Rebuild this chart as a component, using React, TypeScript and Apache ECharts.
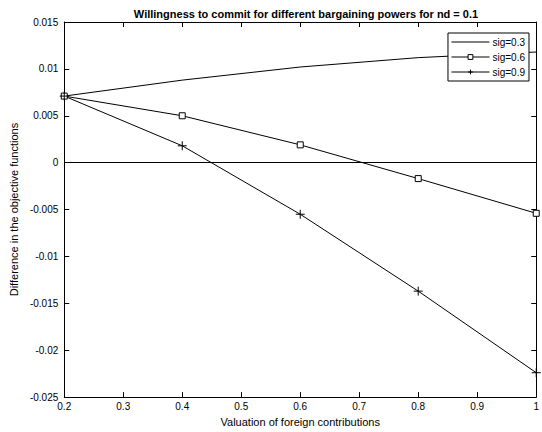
import React, { useEffect, useRef } from "react";
import * as echarts from "echarts";

const xValues = [0.2, 0.4, 0.6, 0.8, 1.0];
const sig03 = [0.0071, 0.0088, 0.0102, 0.0112, 0.0118];
const sig06 = [0.0071, 0.005, 0.0019, -0.0017, -0.0054];
const sig09 = [0.0071, 0.0018, -0.0055, -0.0137, -0.0224];
const seriesNames = ["sig=0.3", "sig=0.6", "sig=0.9"];
const titleText = "Willingness to commit for different bargaining powers for nd = 0.1";
const xName = "Valuation of foreign contributions";
const yName = "Difference in the objective functions";

const FONT = "Liberation Sans, Arial, Helvetica, sans-serif";
const plusPath = "path://M0,5L10,5M5,0L5,10";

export default function App() {
  const ref = useRef<HTMLDivElement>(null);
  useEffect(() => {
    if (!ref.current) return;
    const chart = echarts.init(ref.current, null, { renderer: "svg" });
    const pair = (ys: number[]) => xValues.map((x, i) => [x, ys[i]]);
    const fmt = (v: number) => String(parseFloat(v.toFixed(4)));
    const axisCommon = {
      axisLine: { show: true, onZero: false, lineStyle: { color: "#000", width: 1 } },
      axisTick: { show: true, inside: true, length: 5, lineStyle: { color: "#000" } },
      splitLine: { show: false },
    };
    chart.setOption({
      animation: false,
      backgroundColor: "#fff",
      textStyle: { fontFamily: FONT },
      title: {
        text: titleText,
        left: 301,
        top: 3,
        textAlign: "center",
        textStyle: { fontFamily: FONT, fontSize: 11, fontWeight: "bold", color: "#000" },
      },
      grid: { left: 63, right: 3, top: 22, bottom: 34, containLabel: false },
      legend: {
        right: 13,
        top: 33,
        orient: "vertical",
        itemWidth: 38,
        itemHeight: 6,
        itemGap: 5,
        padding: [4, 4, 4, 3],
        borderColor: "#000",
        borderWidth: 1,
        backgroundColor: "#fff",
        lineStyle: { width: 1 },
        itemStyle: { borderWidth: 1 },
        textStyle: { fontFamily: FONT, fontSize: 10, color: "#000", padding: [0, 0, 0, -2] },
        data: [
          { name: seriesNames[0], itemStyle: { opacity: 0 } },
          { name: seriesNames[1] },
          { name: seriesNames[2] },
        ],
      },
      xAxis: [
        {
          type: "value",
          min: 0.2,
          max: 1,
          interval: 0.1,
          ...axisCommon,
          axisLabel: { color: "#000", fontSize: 10, fontFamily: FONT, margin: 4, formatter: fmt },
          name: xName,
          nameLocation: "middle",
          nameGap: 17,
          nameTextStyle: { color: "#000", fontSize: 11, fontFamily: FONT },
        },
        {
          type: "value",
          position: "top",
          min: 0.2,
          max: 1,
          interval: 0.1,
          ...axisCommon,
          axisLabel: { show: false },
        },
      ],
      yAxis: [
        {
          type: "value",
          min: -0.025,
          max: 0.015,
          interval: 0.005,
          ...axisCommon,
          axisLabel: { color: "#000", fontSize: 10, fontFamily: FONT, margin: 6, formatter: fmt },
          name: yName,
          nameLocation: "middle",
          nameGap: 44,
          nameTextStyle: { color: "#000", fontSize: 11, fontFamily: FONT },
        },
        {
          type: "value",
          position: "right",
          min: -0.025,
          max: 0.015,
          interval: 0.005,
          ...axisCommon,
          axisLabel: { show: false },
        },
      ],
      series: [
        {
          name: seriesNames[0],
          type: "line",
          data: pair(sig03),
          symbol: "none",
          lineStyle: { color: "#000", width: 1 },
          itemStyle: { color: "#000" },
          markLine: {
            silent: true,
            symbol: "none",
            label: { show: false },
            lineStyle: { color: "#000", width: 1, type: "solid" },
            data: [{ yAxis: 0 }],
          },
        },
        {
          name: seriesNames[1],
          type: "line",
          data: pair(sig06),
          symbol: "rect",
          symbolSize: 6,
          lineStyle: { color: "#000", width: 1 },
          itemStyle: { color: "#fff", borderColor: "#000", borderWidth: 1 },
        },
        {
          name: seriesNames[2],
          type: "line",
          data: pair(sig09),
          symbol: plusPath,
          symbolSize: 9,
          lineStyle: { color: "#000", width: 1 },
          itemStyle: { color: "none", borderColor: "#000", borderWidth: 1 },
        },
      ],
    });
    return () => chart.dispose();
  }, []);
  return (
    <div
      ref={ref}
      style={{ position: "fixed", left: 0, top: 0, width: 542, height: 432 }}
    />
  );
}
